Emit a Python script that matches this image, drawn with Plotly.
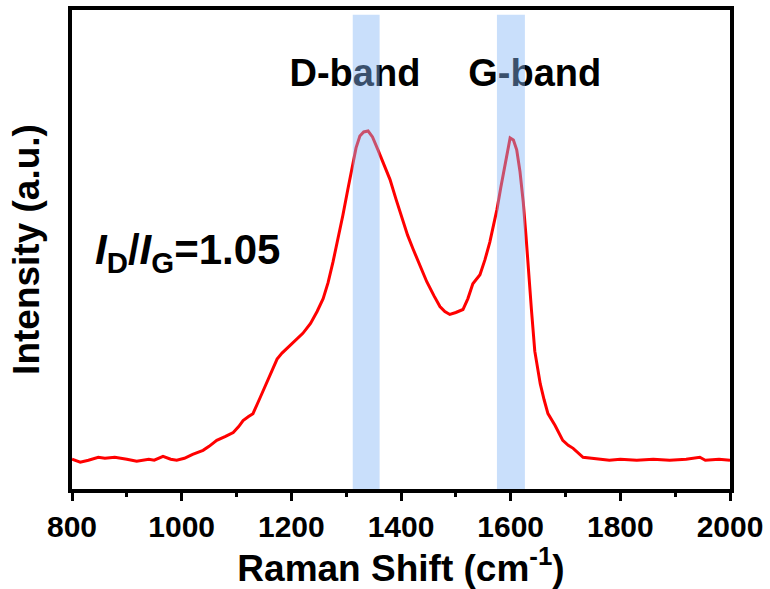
import plotly.graph_objects as go

# Data
raman_shift = [800, 815, 830, 848, 860, 878, 900, 918, 940, 950, 966, 980, 991, 1005, 1020,
               1030, 1039, 1050, 1064, 1080, 1094, 1104, 1112, 1122, 1130, 1143, 1157, 1166,
               1174, 1183, 1192, 1206, 1221, 1235, 1247, 1258, 1267, 1276, 1285, 1294, 1303,
               1312, 1318, 1325, 1332, 1340, 1348, 1358, 1370, 1380, 1391, 1402, 1412, 1422,
               1435, 1447, 1460, 1471, 1480, 1489, 1500, 1513, 1522, 1531, 1544, 1553, 1562,
               1568, 1575, 1582, 1590, 1595, 1599, 1605, 1611, 1617, 1623, 1628, 1632, 1638,
               1644, 1654, 1661, 1668, 1681, 1695, 1705, 1714, 1732, 1763, 1780, 1800, 1830,
               1860, 1890, 1920, 1945, 1955, 1980, 2000]
intensity = [30, 27, 29, 32, 31, 32, 30, 28, 30, 29, 33, 30, 29, 31, 35,
             37, 39, 43, 49, 53, 57, 63, 69, 73, 76, 92, 109, 121,
             131, 137, 142, 149, 157, 167, 179, 192, 208, 229, 251, 276, 302,
             329, 344, 356, 360, 361, 355, 342, 326, 312, 292, 272, 256, 242,
             225, 209, 195, 184, 179, 176, 178, 181, 192, 207, 216, 231, 249,
             264, 282, 304, 326, 343, 354, 352, 342, 320, 289, 255, 222, 180,
             139, 106, 90, 76, 64, 49, 44, 41, 32, 30, 29, 30, 29,
             30, 29, 30, 32, 29, 30, 29]

band_names = ["D-band", "G-band"]
band_lo = [1312, 1575]
band_hi = [1361, 1626]
band_label_x = [1316, 1644]
band_label_y = [416, 416]

ratio_text = "<i>I</i><sub>D</sub>/<i>I</i><sub>G</sub>=1.05"
ratio_x = [842]
ratio_y = [237]

x_ticks = [800, 1000, 1200, 1400, 1600, 1800, 2000]

FONT = "Liberation Sans, Arial, sans-serif"

fig = go.Figure()
fig.add_trace(go.Scatter(x=raman_shift, y=intensity, mode="lines",
                         line=dict(color="#ff0000", width=3), showlegend=False))
fig.add_trace(go.Scatter(x=band_label_x, y=band_label_y, mode="text", text=band_names,
                         textposition="middle center",
                         textfont=dict(family=FONT, size=38, color="black", weight="bold"),
                         showlegend=False))
fig.add_trace(go.Scatter(x=ratio_x, y=ratio_y, mode="text", text=[ratio_text],
                         textposition="middle right",
                         textfont=dict(family=FONT, size=42, color="black", weight="bold"),
                         showlegend=False))

for lo, hi in zip(band_lo, band_hi):
    fig.add_shape(type="rect", xref="x", yref="paper", x0=lo, x1=hi, y0=0, y1=0.99,
                  fillcolor="rgba(132,182,245,0.44)", line=dict(width=0), layer="above")

fig.update_layout(
    width=770, height=589,
    margin=dict(l=72, r=40, t=6, b=100),
    plot_bgcolor="white", paper_bgcolor="white",
    font=dict(family=FONT, color="black"),
)
fig.update_xaxes(
    range=[800, 2000], tickvals=x_ticks, showgrid=False, zeroline=False,
    showline=True, linewidth=4, linecolor="black", mirror=True,
    ticks="outside", ticklen=8, tickwidth=3, tickcolor="black",
    minor=dict(ticks="outside", ticklen=4, tickwidth=3, tickcolor="black", dtick=100),
    tickfont=dict(size=30, family=FONT, weight="bold"),
    title=dict(text="Raman Shift (cm<sup>-1</sup>)", font=dict(size=37, family=FONT, weight="bold"),
               standoff=8),
)
fig.update_yaxes(
    range=[0, 483], showgrid=False, zeroline=False, showticklabels=False, ticks="",
    showline=True, linewidth=4, linecolor="black", mirror=True,
    title=dict(text="Intensity (a.u.)", font=dict(size=37, family=FONT, weight="bold"),
               standoff=18),
)

fig.write_html("out.html")
